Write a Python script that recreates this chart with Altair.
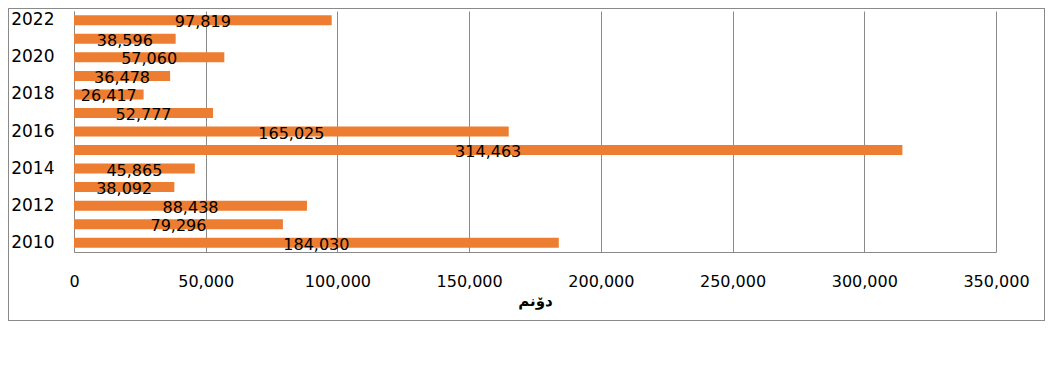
import altair as alt
import pandas as pd

years = [2010, 2011, 2012, 2013, 2014, 2015, 2016, 2017, 2018, 2019, 2020, 2021, 2022]
values = [184030, 79296, 88438, 38092, 45865, 314463, 165025, 52777, 26417, 36478, 57060, 38596, 97819]
x_ticks = [0, 50000, 100000, 150000, 200000, 250000, 300000, 350000]
y_label_years = [2010, 2012, 2014, 2016, 2018, 2020, 2022]
x_title = "دۆنم"

df = pd.DataFrame({"year": years, "value": values})
order = sorted(years, reverse=True)

FONT = "DejaVu Sans"
GRAY = "#8a8a8a"

y_axis = alt.Axis(
    values=y_label_years, title=None, ticks=False, domainColor=GRAY,
    labelFont=FONT, labelFontSize=17, labelColor="#000", labelPadding=20,
    grid=False,
)
y_scale = alt.Scale(paddingInner=0.46, paddingOuter=0.23)
x_axis = alt.Axis(
    values=x_ticks, labelExpr="format(datum.value, ',')", title=x_title, ticks=False,
    domainColor=GRAY, gridColor=GRAY, gridOpacity=1,
    labelFont=FONT, labelFontSize=16, labelColor="#000", labelPadding=21,
    labelFlush=False, labelOverlap=False, labelBound=False,
    titleFont=FONT, titleFontSize=15, titleFontWeight="bold",
    titleColor="#000", titlePadding=4,
)
x_scale = alt.Scale(domain=[0, 350000], nice=False)

bars = alt.Chart(df).mark_bar(color="#ED7D31").encode(
    x=alt.X("value:Q", scale=x_scale, axis=x_axis, title=x_title),
    y=alt.Y("year:O", sort=order, scale=y_scale, axis=y_axis),
)

labels = alt.Chart(df).transform_calculate(
    mid="datum.value / 2"
).mark_text(font=FONT, fontSize=16, color="#000", dy=2).encode(
    x=alt.X("mid:Q", scale=x_scale, axis=x_axis, title=x_title),
    y=alt.Y("year:O", sort=order, scale=y_scale, axis=y_axis),
    text=alt.Text("value:Q", format=","),
)

frame = alt.Chart(df).mark_rect(fill=None, stroke=GRAY, strokeWidth=1).encode(
    x=alt.value(-65.5), x2=alt.value(970.5), y=alt.value(-2.5), y2=alt.value(309.5)
)

chart = alt.layer(frame, bars, labels).properties(
    width=922, height=241,
    autosize=alt.AutoSizeParams(type="none"),
    padding={"left": 66, "top": 3, "right": 49, "bottom": 75},
).configure_view(stroke=None).configure_axisY(grid=False)

chart.save("out.html", embed_options={"renderer": "svg", "actions": False})
